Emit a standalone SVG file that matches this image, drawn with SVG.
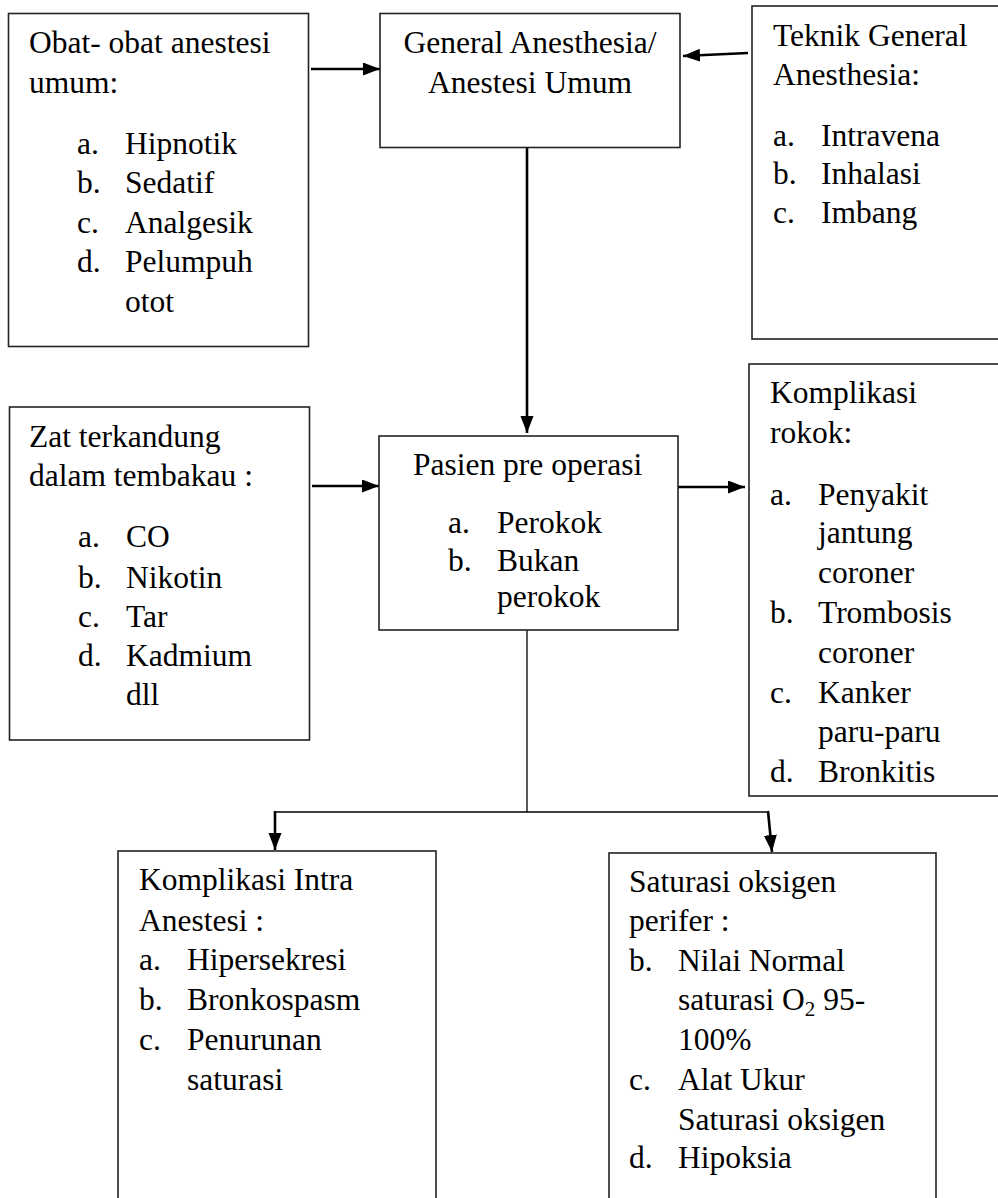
<svg xmlns="http://www.w3.org/2000/svg" width="998" height="1198" viewBox="0 0 998 1198">
<defs>
<marker id="ah" markerUnits="userSpaceOnUse" markerWidth="18" markerHeight="14" refX="17" refY="6.5" orient="auto">
<path d="M0,0 L17,6.5 L0,13 z" fill="#000"/>
</marker>
<style>
rect.box{fill:#fff;stroke:#222;stroke-width:1.6}
text{font-family:"Liberation Serif","Times New Roman",serif;font-size:31.5px;fill:#000}
.c{text-anchor:middle}
.conn{fill:none;stroke:#000;stroke-width:2.6}
.thin{fill:none;stroke:#000;stroke-width:1.3}
</style>
</defs>
<rect width="998" height="1198" fill="#fff"/>
<g id="connectors">
<line class="conn" x1="311" y1="69" x2="380" y2="69" marker-end="url(#ah)"/>
<line class="conn" x1="748" y1="53" x2="683" y2="56" marker-end="url(#ah)"/>
<line class="conn" x1="527" y1="148" x2="527" y2="433" marker-end="url(#ah)"/>
<line class="conn" x1="312" y1="486" x2="379" y2="486" marker-end="url(#ah)"/>
<line class="conn" x1="676" y1="487" x2="745" y2="487" marker-end="url(#ah)"/>
<path class="thin" d="M527,630 V812 M275,812 H768"/>
<line class="conn" x1="275" y1="811" x2="275" y2="850" marker-end="url(#ah)"/>
<line class="conn" x1="768" y1="811" x2="772" y2="852" marker-end="url(#ah)"/>
</g>
<g id="obat">
<rect class="box" x="8.5" y="13.5" width="300" height="333"/>
<text x="29" y="53">Obat- obat anestesi</text>
<text x="29" y="93">umum:</text>
<text x="77" y="154">a.</text><text x="125" y="154">Hipnotik</text>
<text x="77" y="193">b.</text><text x="125" y="193">Sedatif</text>
<text x="77" y="233">c.</text><text x="125" y="233">Analgesik</text>
<text x="77" y="272">d.</text><text x="125" y="272">Pelumpuh</text>
<text x="125" y="312">otot</text>
</g>
<g id="general">
<rect class="box" x="380" y="13.5" width="300" height="134"/>
<text class="c" x="530" y="53">General Anesthesia/</text>
<text class="c" x="530" y="93">Anestesi Umum</text>
</g>
<g id="teknik">
<rect class="box" x="752" y="6" width="252" height="333"/>
<text x="773" y="46">Teknik General</text>
<text x="773" y="85">Anesthesia:</text>
<text x="773" y="146">a.</text><text x="821" y="146">Intravena</text>
<text x="773" y="184">b.</text><text x="821" y="184">Inhalasi</text>
<text x="773" y="223">c.</text><text x="821" y="223">Imbang</text>
</g>
<g id="zat">
<rect class="box" x="9.5" y="407" width="300" height="333"/>
<text x="29" y="447">Zat terkandung</text>
<text x="29" y="486">dalam tembakau :</text>
<text x="78" y="547">a.</text><text x="126" y="547">CO</text>
<text x="78" y="588">b.</text><text x="126" y="588">Nikotin</text>
<text x="78" y="627">c.</text><text x="126" y="627">Tar</text>
<text x="78" y="666">d.</text><text x="126" y="666">Kadmium</text>
<text x="126" y="705">dll</text>
</g>
<g id="pasien">
<rect class="box" x="379" y="436" width="299" height="194"/>
<text x="413" y="475">Pasien pre operasi</text>
<text x="448" y="533">a.</text><text x="497" y="533">Perokok</text>
<text x="448" y="571">b.</text><text x="497" y="571">Bukan</text>
<text x="497" y="607">perokok</text>
</g>
<g id="komplikasi-rokok">
<rect class="box" x="749" y="364" width="255" height="432"/>
<text x="770" y="403">Komplikasi</text>
<text x="770" y="443">rokok:</text>
<text x="770" y="505">a.</text><text x="818" y="505">Penyakit</text>
<text x="818" y="543">jantung</text>
<text x="818" y="583">coroner</text>
<text x="770" y="623">b.</text><text x="818" y="623">Trombosis</text>
<text x="818" y="663">coroner</text>
<text x="770" y="703">c.</text><text x="818" y="703">Kanker</text>
<text x="818" y="742">paru-paru</text>
<text x="770" y="782">d.</text><text x="818" y="782">Bronkitis</text>
</g>
<g id="komplikasi-intra">
<rect class="box" x="118" y="851" width="318" height="360"/>
<text x="139" y="890">Komplikasi Intra</text>
<text x="139" y="931">Anestesi :</text>
<text x="139" y="970">a.</text><text x="187" y="970">Hipersekresi</text>
<text x="139" y="1010">b.</text><text x="187" y="1010">Bronkospasm</text>
<text x="139" y="1050">c.</text><text x="187" y="1050">Penurunan</text>
<text x="187" y="1090">saturasi</text>
</g>
<g id="saturasi">
<rect class="box" x="609" y="853" width="327" height="360"/>
<text x="629" y="892">Saturasi oksigen</text>
<text x="629" y="931">perifer :</text>
<text x="629" y="971">b.</text><text x="678" y="971">Nilai Normal</text>
<text x="678" y="1010">saturasi O<tspan font-size="21" dy="6">2</tspan><tspan dy="-6"> 95-</tspan></text>
<text x="678" y="1050">100%</text>
<text x="629" y="1090">c.</text><text x="678" y="1090">Alat Ukur</text>
<text x="678" y="1130">Saturasi oksigen</text>
<text x="629" y="1168">d.</text><text x="678" y="1168">Hipoksia</text>
</g>
</svg>
